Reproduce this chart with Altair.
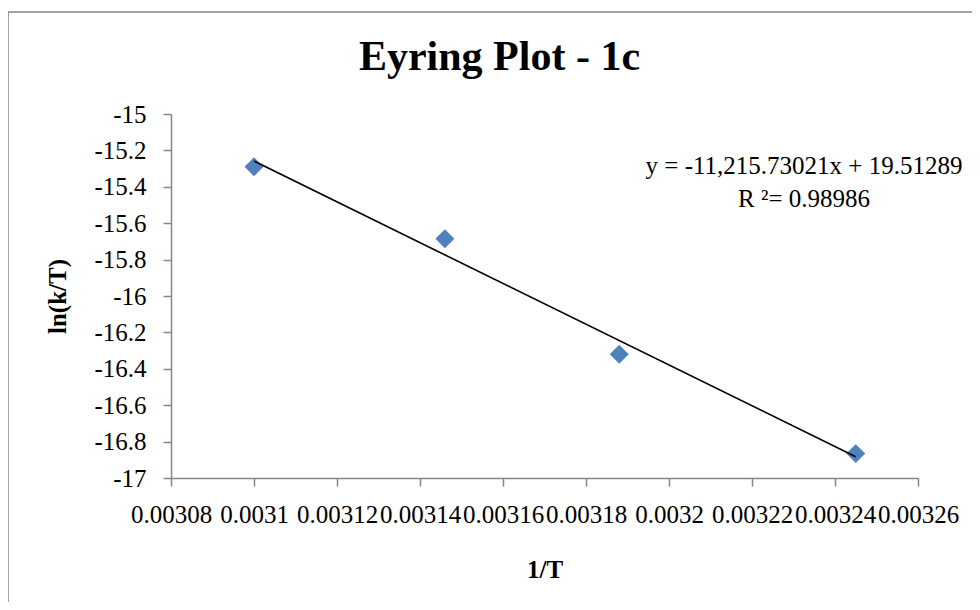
import altair as alt
import pandas as pd

# ---- data ----
inv_T = [0.003100, 0.003146, 0.003188, 0.003245]
ln_kT = [-15.29, -15.685, -16.32, -16.866]
x_ticks = [0.00308, 0.00310, 0.00312, 0.00314, 0.00316, 0.00318,
           0.00320, 0.00322, 0.00324, 0.00326]
y_ticks = [-17, -16.8, -16.6, -16.4, -16.2, -16, -15.8, -15.6, -15.4, -15.2, -15]
eq_lines = ["y = -11,215.73021x + 19.51289", "R \u00b2= 0.98986"]

df = pd.DataFrame({"x": inv_T, "y": ln_kT})
one = pd.DataFrame({"a": [0]})

FONT = "Liberation Serif"
GREY = "#868686"
MINUS = "\u2212"

xs = alt.Scale(domain=[0.00308, 0.00326], nice=False, zero=False)
ys = alt.Scale(domain=[-17, -15], nice=False, zero=False)

xaxis = alt.Axis(
    values=x_ticks,
    labelExpr=f"replace(format(datum.value, '.5~f'), '{MINUS}', '-')",
    labelOverlap=False, labelFlush=False, labelBound=False,
    labelFont=FONT, labelFontSize=25, labelColor="black", labelPadding=16,
    titleFont=FONT, titleFontSize=25, titleFontWeight="bold", titleColor="black",
    titlePadding=30,
    domainColor=GREY, domainWidth=1.5, tickColor=GREY, tickWidth=1.5, tickSize=8,
    grid=False,
)
yaxis = alt.Axis(
    values=y_ticks,
    labelExpr=f"replace(format(datum.value, '.1~f'), '{MINUS}', '-')",
    labelOverlap=False, labelFlush=False, labelBound=False,
    labelFont=FONT, labelFontSize=25, labelColor="black", labelPadding=17,
    titleFont=FONT, titleFontSize=25, titleFontWeight="bold", titleColor="black",
    titlePadding=23,
    domainColor=GREY, domainWidth=1.5, tickColor=GREY, tickWidth=1.5, tickSize=8,
    grid=False,
)

X = alt.X("x:Q", scale=xs, axis=xaxis, title="1/T")
Y = alt.Y("y:Q", scale=ys, axis=yaxis, title="ln(k/T)")

points = alt.Chart(df).mark_point(
    shape="diamond", filled=True, size=360, color="#4F81BD", opacity=1
).encode(x=X, y=Y)

trend = alt.Chart(df).transform_regression("x", "y").mark_line(
    color="black", strokeWidth=1.6
).encode(x=X, y=Y)

eq = alt.Chart(one).mark_text(
    text=eq_lines, font=FONT, fontSize=25, color="black",
    align="center", baseline="alphabetic", lineHeight=33
).encode(x=alt.value(633), y=alt.value(60))

frame_v = alt.Chart(one).mark_rule(color=GREY, strokeWidth=1.5).encode(
    x=alt.value(-163), y=alt.value(-102), y2=alt.value(500)
)
frame_h = alt.Chart(one).mark_rule(color=GREY, strokeWidth=1.5).encode(
    x=alt.value(-163), x2=alt.value(820), y=alt.value(-102)
)

chart = alt.layer(frame_v, frame_h, points, trend, eq).properties(
    width=747, height=364,
    autosize=alt.AutoSizeParams(type="none"),
    padding={"left": 163, "top": 106, "right": 54, "bottom": 124},
    title=alt.TitleParams(
        "Eyring Plot - 1c", font=FONT, fontSize=42, fontWeight="bold",
        color="black", anchor="middle", frame="group", dx=-45, offset=-68,
    ),
    background="white",
).configure_view(stroke=None)

chart.save("out.html", embed_options={"renderer": "svg", "actions": False})
